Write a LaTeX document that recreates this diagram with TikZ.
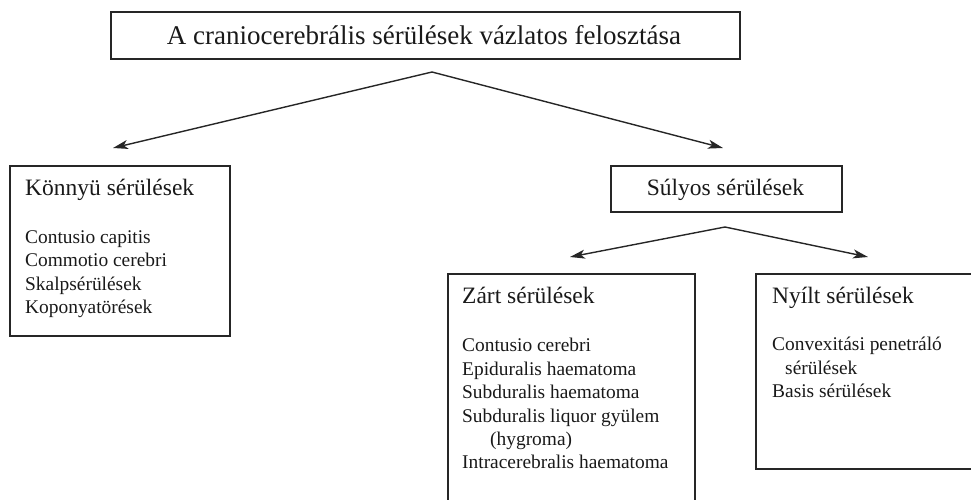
\documentclass[tikz,border=0pt]{standalone}
\usepackage{fontspec}
\setmainfont{Liberation Serif}
\usetikzlibrary{arrows.meta}
\begin{document}
\begin{tikzpicture}[x=1pt,y=-1pt,
  box/.style={draw=black!85, line width=1.6pt, rectangle, inner sep=0pt, anchor=north west},
  arr/.style={draw=black!85, line width=1.4pt, -{Stealth[length=15pt,width=9pt,inset=4pt]}},
  titletext/.style={font=\fontsize{27}{32}\selectfont, text=black!90, inner sep=0pt, anchor=base},
  headtext/.style={font=\fontsize{23.5}{28}\selectfont, text=black!90, inner sep=0pt, anchor=base west},
  itemtext/.style={font=\fontsize{19.4}{23.4}\selectfont, text=black!90, inner sep=0pt, anchor=base west},
]
\useasboundingbox (0,0) rectangle (971,500);

% boxes
\node[box, minimum width=629pt, minimum height=47pt] (title) at (110,11) {};
\node[box, minimum width=220pt, minimum height=170pt] (light) at (9,165) {};
\node[box, minimum width=231pt, minimum height=46pt] (severe) at (610,165) {};
\node[box, minimum width=247pt, minimum height=240pt] (closed) at (447,273) {};
\node[box, minimum width=230pt, minimum height=195pt] (open) at (755,273) {};

% title and headings
\node[titletext] (titlet) at (424,45) {A craniocerebrális sérülések vázlatos felosztása};
\node[headtext] (lighth) at (25,195) {Könnyü sérülések};
\node[headtext, anchor=base] (severeh) at (725.5,195) {Súlyos sérülések};
\node[headtext] (closedh) at (462,303) {Zárt sérülések};
\node[headtext] (openh) at (772,303) {Nyílt sérülések};

% lists
\node[itemtext] (l1) at (25,243) {Contusio capitis};
\node[itemtext] (l2) at (25,266.5) {Commotio cerebri};
\node[itemtext] (l3) at (25,290) {Skalpsérülések};
\node[itemtext] (l4) at (25,313.5) {Koponyatörések};

\node[itemtext] (c1) at (462,351.5) {Contusio cerebri};
\node[itemtext] (c2) at (462,375) {Epiduralis haematoma};
\node[itemtext] (c3) at (462,398.5) {Subduralis haematoma};
\node[itemtext] (c4) at (462,422) {Subduralis liquor gyülem};
\node[itemtext] (c5) at (490,445) {(hygroma)};
\node[itemtext] (c6) at (462,468.5) {Intracerebralis haematoma};

\node[itemtext] (o1) at (772,350.5) {Convexitási penetráló};
\node[itemtext] (o2) at (785,374) {sérülések};
\node[itemtext] (o3) at (772,397.5) {Basis sérülések};

% branching arrows
\coordinate (apexA) at (432,72);
\coordinate (tipLight) at (113,148);
\coordinate (tipSevere) at (723,148);
\draw[arr] (apexA) -- (tipLight);
\draw[arr] (apexA) -- (tipSevere);

\coordinate (apexB) at (725,227);
\coordinate (tipClosed) at (570,257);
\coordinate (tipOpen) at (868,257);
\draw[arr] (apexB) -- (tipClosed);
\draw[arr] (apexB) -- (tipOpen);
\end{tikzpicture}
\end{document}
